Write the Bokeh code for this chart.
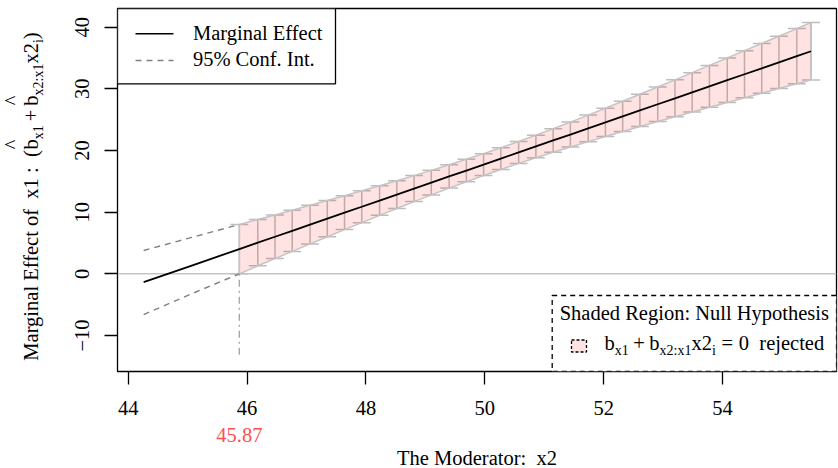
import math
from bokeh.plotting import figure
from bokeh.layouts import row, column
from bokeh.models import Range1d, FixedTicker, Span, Label, BoxAnnotation, ColumnDataSource
from bokeh.embed import file_html
from bokeh.resources import INLINE

# ---------------- data ----------------
x_ticks = [44, 46, 48, 50, 52, 54]
y_ticks = [-10, 0, 10, 20, 30, 40]

# moderator values where the effect is not significant (dashed CI)
x2_ns = [44.26, 45.07]
me_ns = [-1.36, 1.34]
lo_ns = [-6.60, -3.23]
hi_ns = [3.78, 5.91]

# moderator values inside the shaded (significant) region
x2_sig = [45.87, 46.18, 46.47, 46.76, 47.06, 47.35, 47.64, 47.93, 48.23, 48.52,
          48.81, 49.10, 49.40, 49.69, 49.98, 50.27, 50.57, 50.86, 51.15, 51.44,
          51.74, 52.03, 52.32, 52.61, 52.91, 53.20, 53.49, 53.78, 54.08, 54.37,
          54.66, 54.95, 55.25, 55.49]
me_sig = [4.02, 5.05, 6.01, 6.98, 7.98, 8.95, 9.92, 10.88, 11.88, 12.85,
          13.82, 14.79, 15.79, 16.75, 17.72, 18.69, 19.69, 20.66, 21.63, 22.59,
          23.59, 24.56, 25.53, 26.50, 27.50, 28.46, 29.43, 30.40, 31.40, 32.37,
          33.33, 34.30, 35.30, 36.10]
lo_sig = [0.00, 1.30, 2.47, 3.64, 4.85, 6.01, 7.17, 8.30, 9.48, 10.60,
          11.71, 12.80, 13.90, 14.93, 15.95, 16.93, 17.91, 18.83, 19.72, 20.57,
          21.44, 22.26, 23.08, 23.88, 24.69, 25.46, 26.23, 27.00, 27.79, 28.55,
          29.30, 30.06, 30.83, 31.45]
hi_sig = [8.00, 8.80, 9.55, 10.32, 11.11, 11.89, 12.67, 13.46, 14.28, 15.10,
          15.93, 16.78, 17.68, 18.57, 19.49, 20.45, 21.47, 22.49, 23.54, 24.61,
          25.74, 26.86, 27.98, 29.12, 30.31, 31.46, 32.63, 33.80, 35.01, 36.19,
          37.36, 38.54, 39.77, 40.75]

threshold = 45.87
threshold_label = "45.87"
ref_line_bottom = -13.6

# ---------------- layout / style ----------------
W_PX, H_PX = 838, 468
YT_W = 60            # width of the strip holding the y title
FR_L, FR_R, FR_T, FR_B = 117, 836, 8, 371   # frame in window pixels
MAIN_H = FR_B + 70   # main canvas height (bottom border generous, transparent)
BOT_TOP = 424        # where the bottom strip starts in the window
BOT_H = H_PX - BOT_TOP
XR = (43.82, 55.918)
YR = (-15.84, 43.03)
FONT = "Liberation Serif"
F = 20.5      # main font px
S = 14.0      # subscript font px
SUB = 5.0     # subscript drop px
CAP_HW = 0.15 # half width of the error-bar caps (x units)
BL_FIX = 0.415  # renderer's baseline offset, as a fraction of the font size
NB = "\u00a0"


def px2x(sx):
    return XR[0] + (sx - FR_L) / (FR_R - FR_L) * (XR[1] - XR[0])


def px2y(sy):
    return YR[0] + (FR_B - sy) / (FR_B - FR_T) * (YR[1] - YR[0])


TW = {'M': 889, 'a': 444, 'r': 333, 'g': 500, 'i': 278, 'n': 500, 'l': 278, ' ': 250,
      NB: 250, 'E': 611, 'f': 333, 'e': 444, 'c': 444, 't': 278, 'o': 500, 'x': 500,
      '1': 500, ':': 278, '(': 333, ')': 333, 'b': 500, '+': 564, '2': 500, '=': 564,
      '0': 500, 'j': 278, 'd': 500}


def tw(s, size):
    return sum(TW.get(c, 500) for c in s) / 1000.0 * size


def mk_label(fig, text, x, y, size=F, color="black", angle=0.0, align="left"):
    fig.add_layout(Label(x=x, y=y, text=text, text_font=FONT,
                         text_font_size=f"{size}px", text_color=color, angle=angle,
                         text_align=align, text_baseline="alphabetic"))


def blank(fig):
    fig.outline_line_color = None
    fig.background_fill_alpha = 0
    fig.border_fill_alpha = 0


# ================= main figure =================
p = figure(title=None, frame_width=FR_R - FR_L, frame_height=FR_B - FR_T,
           output_backend="svg", toolbar_location=None,
           x_range=Range1d(*XR), y_range=Range1d(*YR),
           min_border_left=FR_L - YT_W, min_border_right=W_PX - FR_R,
           min_border_top=FR_T, min_border_bottom=MAIN_H - FR_B)
p.background_fill_color = "white"
p.border_fill_alpha = 0
p.outline_line_color = "black"
p.outline_line_width = 1.3
p.xgrid.visible = False
p.ygrid.visible = False

for ax in (p.xaxis[0], p.yaxis[0]):
    ax.axis_line_color = None
    ax.major_tick_line_color = "black"
    ax.major_tick_line_width = 1.3
    ax.major_tick_out = 13
    ax.major_tick_in = 0
    ax.minor_tick_line_color = None
    ax.major_label_text_font = FONT
    ax.major_label_text_font_size = f"{F}px"
    ax.major_label_text_color = "black"
p.xaxis.ticker = FixedTicker(ticks=x_ticks)
p.yaxis.ticker = FixedTicker(ticks=y_ticks)
p.xaxis.major_label_standoff = 16
p.yaxis.major_label_standoff = 15
p.yaxis.major_label_orientation = "vertical"

# zero reference line
p.add_layout(Span(location=0, dimension="width", line_color="#C6C6C6",
                  line_width=1.5, level="underlay"))

# vertical dot-dash line at the threshold
p.segment(x0=[threshold], y0=[0], x1=[threshold], y1=[ref_line_bottom],
          line_color="#A6A6A6", line_width=1.4, line_dash="2 4 7 4")

# error bars and caps
bars = ColumnDataSource(dict(x=x2_sig, lo=lo_sig, hi=hi_sig))
p.segment(x0="x", y0="lo", x1="x", y1="hi", source=bars, line_color="#BDBDBD", line_width=1.5)
cap_x0 = [v - CAP_HW for v in x2_sig] * 2
cap_x1 = [v + CAP_HW for v in x2_sig] * 2
cap_y = hi_sig + lo_sig
p.segment(x0=cap_x0, y0=cap_y, x1=cap_x1, y1=cap_y, line_color="#BDBDBD", line_width=1.5)

# shaded significant region
p.patch(x=x2_sig + x2_sig[::-1], y=hi_sig + lo_sig[::-1],
        fill_color="#FF0000", fill_alpha=0.11, line_color="#C4C4C4", line_width=1.5)

# dashed CI where not significant
p.line(x=x2_ns + x2_sig[:1], y=hi_ns + hi_sig[:1], line_color="#808080",
       line_width=1.4, line_dash="6 5")
p.line(x=x2_ns + x2_sig[:1], y=lo_ns + lo_sig[:1], line_color="#808080",
       line_width=1.4, line_dash="6 5")

# marginal effect
p.line(x=x2_ns + x2_sig, y=me_ns + me_sig, line_color="black", line_width=1.8)


def lab(text, sx, sy, size=F, **kw):
    # sx, sy: wanted start / baseline position in window pixels
    mk_label(p, text, px2x(sx), px2y(sy - BL_FIX * size), size=size, **kw)


# ---- top-left legend ----
p.add_layout(BoxAnnotation(left=px2x(FR_L), right=px2x(335), top=px2y(FR_T), bottom=px2y(83.3),
                           fill_color="white", fill_alpha=1.0, line_color="black",
                           line_alpha=1.0, line_width=1.3))
p.segment(x0=[px2x(135)], y0=[px2y(33.3)], x1=[px2x(173)], y1=[px2y(33.3)],
          line_color="black", line_width=1.6, level="overlay")
p.segment(x0=[px2x(135)], y0=[px2y(60)], x1=[px2x(173)], y1=[px2y(60)],
          line_color="#808080", line_width=1.4, line_dash="6 5", level="overlay")
lab("Marginal Effect", 192.4, 40.7)
lab("95% Conf. Int.", 192.4, 66.7)

# ---- bottom-right legend ----
p.add_layout(BoxAnnotation(left=px2x(551.7), right=px2x(FR_R), top=px2y(295), bottom=px2y(FR_B),
                           fill_color="white", fill_alpha=1.0, line_color="black",
                           line_alpha=1.0, line_width=1.3, line_dash="5 4"))
lab("Shaded Region: Null Hypothesis", (551.7 + FR_R) / 2, 321.5, align="center")
p.add_layout(BoxAnnotation(left=px2x(571), right=px2x(586), top=px2y(339.5), bottom=px2y(351.5),
                           fill_color="#FF0000", fill_alpha=0.11, line_color="black",
                           line_alpha=1.0, line_width=1.3, line_dash="3 2"))
leg_parts = [
    ("b", F, 0, 0), ("x1", S, SUB, 0), ("+", F, 0, 4.5), ("b", F, 0, 4.5),
    ("x2:x1", S, SUB, 0), ("x2", F, 0, 0), ("i", S, SUB, 0), ("=", F, 0, 5.7),
    ("0", F, 0, 5.7), (NB + NB + "rejected", F, 0, 0),
]
pos = 604.0
for t, s, d, g in leg_parts:
    pos += g
    lab(t, pos, 351.0 + d, size=s)
    pos += tw(t, s)

# ================= y-title strip =================
yf = figure(title=None, frame_width=YT_W, frame_height=MAIN_H, output_backend="svg",
            toolbar_location=None, x_range=Range1d(0, YT_W), y_range=Range1d(0, MAIN_H),
            x_axis_type=None, y_axis_type=None, min_border=0,
            min_border_left=0, min_border_right=0, min_border_top=0, min_border_bottom=0)
blank(yf)


def ylab(text, sx, sy, size=F, **kw):
    # rotated text: "down" of the text points to +x on screen
    mk_label(yf, text, sx - BL_FIX * size, MAIN_H - sy, size=size, angle=math.pi / 2, **kw)


ylab_parts = [  # text, size, drop, gap_before, hat
    ("Marginal" + NB + "Effect" + NB + "of" + NB + NB + "x1" + NB + ":" + NB + NB + "(", F, 0, 0, False),
    ("b", F, 0, 0, True),
    ("x1", S, SUB, 0, False),
    ("+", F, 0, 4.0, False),
    ("b", F, 0, 4.0, True),
    ("x2:x1", S, SUB, 0, False),
    ("x2", F, 0, 0, False),
    ("i", S, SUB, 0, False),
    (")", F, 0, 0, False),
]
total = sum(tw(t, s) + g for t, s, _, g, _ in ylab_parts)
base_x = 39.0
sy0 = 188.0 + total / 2
pos = 0.0
for t, s, d, g, hat in ylab_parts:
    pos += g
    ylab(t, base_x + d, sy0 - pos, size=s)
    if hat:
        ylab("^", base_x - 19, sy0 - pos - tw(t, s) / 2, size=F, align="center")
    pos += tw(t, s)

# ================= bottom strip (threshold value, x title) =================
bf = figure(title=None, frame_width=FR_R - FR_L, frame_height=BOT_H, output_backend="svg",
            toolbar_location=None, x_range=p.x_range, y_range=Range1d(0, BOT_H),
            x_axis_type=None, y_axis_type=None, min_border=0,
            min_border_left=FR_L, min_border_right=W_PX - FR_R,
            min_border_top=0, min_border_bottom=0,
            margin=(BOT_TOP - MAIN_H, 0, 0, 0))
blank(bf)
mk_label(bf, threshold_label, threshold, H_PX - (442.7 - BL_FIX * F), color="#FF5050", align="center")
mk_label(bf, "The Moderator:" + NB + NB + "x2", (XR[0] + XR[1]) / 2, H_PX - (466.3 - BL_FIX * F),
         align="center")

layout = column(row(yf, p, spacing=0), bf, spacing=0)
open("out.html", "w").write(file_html(layout, INLINE))
